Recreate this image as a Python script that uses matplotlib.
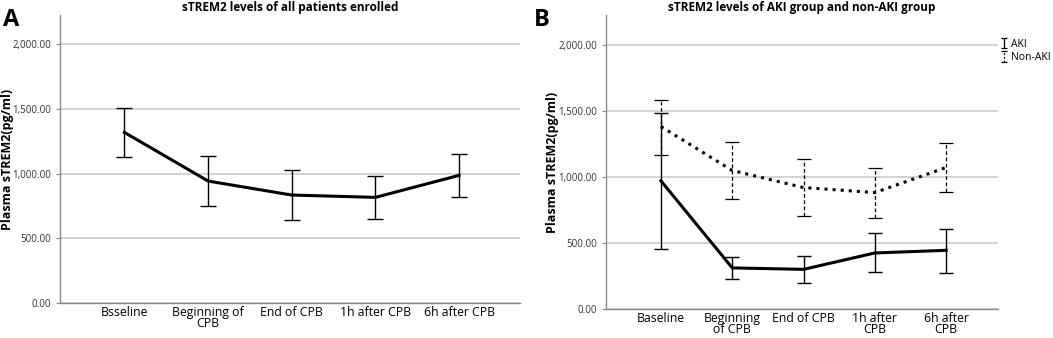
import matplotlib
matplotlib.use("Agg")
import matplotlib.pyplot as plt
import numpy as np
from matplotlib.ticker import FuncFormatter, MultipleLocator

plt.rcParams["font.family"] = ["Open Sans", "DejaVu Sans"]

# --- data (pg/ml) ---
labels_a = ["Bsseline", "Beginning of\nCPB", "End of CPB", "1h after CPB", "6h after CPB"]
all_mean = [1318, 942, 834, 816, 986]
all_low = [1130, 751, 643, 651, 819]
all_high = [1508, 1137, 1025, 981, 1151]

labels_b = ["Baseline", "Beginning\nof CPB", "End of CPB", "1h after\nCPB", "6h after\nCPB"]
aki_mean = [970, 311, 300, 424, 444]
aki_low = [455, 225, 200, 278, 273]
aki_high = [1480, 396, 401, 573, 609]
non_mean = [1381, 1048, 919, 881, 1071]
non_low = [1169, 831, 705, 692, 889]
non_high = [1583, 1260, 1134, 1066, 1255]

DASH = (0, (3, 2))

fig = plt.figure(figsize=(10.53, 3.38), dpi=100)
ax_a = fig.add_axes([0.057, 0.1036, 0.437, 0.852])
ax_b = fig.add_axes([0.5755, 0.0858, 0.3725, 0.870])

fmt = FuncFormatter(lambda v, p: f"{v:,.2f}")


def style(ax, labels, ylab_x):
    ax.set_ylim(0, 2225)
    ax.set_xlim(-0.77, 4.73)
    ax.yaxis.set_major_locator(MultipleLocator(500))
    ax.yaxis.set_major_formatter(fmt)
    ax.grid(axis="y", color="#c8c8c8", lw=1.1)
    ax.set_axisbelow(True)
    for s in ("top", "right"):
        ax.spines[s].set_visible(False)
    for s in ("left", "bottom"):
        ax.spines[s].set_color("#8a8a8a")
        ax.spines[s].set_linewidth(1.0)
    ax.tick_params(axis="y", labelsize=7, length=3, color="#8a8a8a", labelcolor="#333333")
    ax.tick_params(axis="x", length=0, labelsize=8.8, pad=2)
    ax.set_xticks(range(len(labels)))
    ax.set_xticklabels(labels, linespacing=0.85)
    ax.set_ylabel("Plasma sTREM2(pg/ml)", fontsize=9, fontweight="bold")
    ax.yaxis.set_label_coords(ylab_x, 0.5)


def err(mean, low, high):
    return [[m - l for m, l in zip(mean, low)], [h - m for m, h in zip(mean, high)]]


# --- panel A ---
x = range(len(all_mean))
ax_a.errorbar(x, all_mean, yerr=err(all_mean, all_low, all_high), color="black",
              lw=2.2, elinewidth=1.0, capsize=5.5, capthick=1.0)
style(ax_a, labels_a, -0.101)
ax_a.set_title("sTREM2 levels of all patients enrolled", fontsize=8.5, fontweight="bold", pad=3)
fig.text(0.003, 0.975, "A", fontsize=17, fontweight="bold", va="top")

# --- panel B ---
ax_b.errorbar(x, aki_mean, yerr=err(aki_mean, aki_low, aki_high), color="black",
              lw=2.2, elinewidth=1.0, capsize=5, capthick=1.0)
e_non = ax_b.errorbar(x, non_mean, yerr=err(non_mean, non_low, non_high), color="black",
                      lw=2.2, ls=":", elinewidth=0.9, capsize=5, capthick=0.9)
e_non[2][0].set_linestyle(DASH)
style(ax_b, labels_b, -0.12)
ax_b.set_title("sTREM2 levels of AKI group and non-AKI group", fontsize=8.5, fontweight="bold", pad=3)
fig.text(0.507, 0.975, "B", fontsize=17, fontweight="bold", va="top")

# legend proxies: bare error-bar icons, no mean line
h_aki = ax_b.errorbar([np.nan], [np.nan], yerr=[1], ls="none", color="black",
                      elinewidth=0.9, capsize=2, capthick=0.9, label="AKI")
h_non = ax_b.errorbar([np.nan], [np.nan], yerr=[1], ls="none", color="black",
                      elinewidth=0.9, capsize=2, capthick=0.9, label="Non-AKI")
h_non[2][0].set_linestyle((0, (1.5, 1.5)))
ax_b.legend(handles=[h_aki, h_non], loc="upper left", bbox_to_anchor=(1.005, 0.922),
            frameon=False, fontsize=7.5, handlelength=0.5, handletextpad=0.45,
            labelspacing=0.2, borderaxespad=0.0, borderpad=0.1)

fig.savefig("out.png", dpi=100)
